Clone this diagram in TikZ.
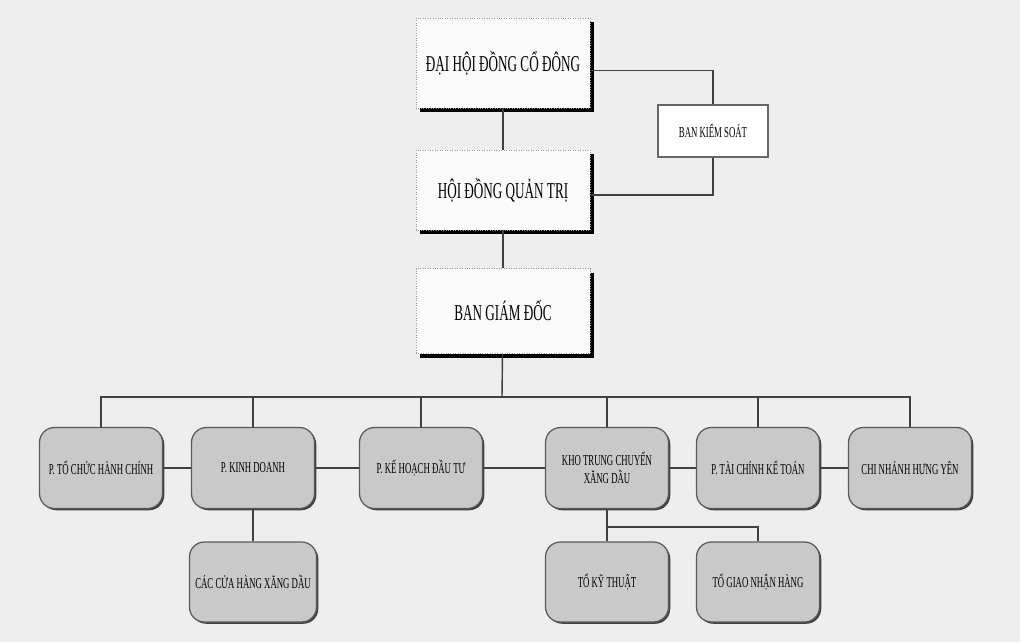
\documentclass[tikz,border=0pt]{standalone}
\usepackage{fontspec}
\setmainfont[FakeStretch=0.58]{Liberation Serif}
\usetikzlibrary{shadows}

\tikzstyle{topbox} = [rectangle, minimum width=3.48cm, minimum height=1.7cm, text centered, draw=black!40, densely dotted, fill=gray!4, font=\fontsize{12.9}{14}\selectfont, drop shadow={shadow xshift=0.08cm, shadow yshift=-0.08cm, fill=black, opacity=1}]
\tikzstyle{ctlbox} = [rectangle, minimum width=2.2cm, minimum height=1.04cm, text centered, draw=black!60, line width=0.9pt, fill=white, font=\fontsize{8.6}{10}\selectfont]
\tikzstyle{unit} = [rectangle, rounded corners=0.3cm, minimum width=2.46cm, minimum height=1.62cm, text centered, align=center, draw=black!65, line width=0.7pt, fill=gray!42, font=\fontsize{8.6}{10}\selectfont, drop shadow={shadow xshift=0.035cm, shadow yshift=-0.035cm, fill=black!75, opacity=1}]
\tikzstyle{conn} = [draw=black!75, line width=0.8pt]

\begin{document}
\begin{tikzpicture}[node distance=3cm]
\useasboundingbox (0,0) rectangle (20.4,-12.84);
\fill [gray!13] (0,0) rectangle (20.4,-12.84);
% top of the chart
\node (dhcd) [topbox, minimum height=1.8cm] at (10.06,-1.26) {ĐẠI HỘI ĐỒNG CỔ ĐÔNG};
\node (hdqt) [topbox, minimum height=1.6cm, below of=dhcd, yshift=0.46cm] {HỘI ĐỒNG QUẢN TRỊ};
\node (bgd) [topbox, below of=hdqt, yshift=0.58cm] {BAN GIÁM ĐỐC};
\node (bks) [ctlbox, right of=dhcd, xshift=1.2cm, yshift=-1.36cm] {BAN KIỂM SOÁT};
% departments
\node (tchc) [unit] at (2.02,-9.36) {P. TỔ CHỨC HÀNH CHÍNH};
\node (kd) [unit, right of=tchc, xshift=0.04cm] {P. KINH DOANH};
\node (khdt) [unit, right of=kd, xshift=0.36cm] {P. KẾ HOẠCH ĐẦU TƯ};
\node (kho) [unit, right of=khdt, xshift=0.72cm] {KHO TRUNG CHUYỂN\\XĂNG DẦU};
\node (tckt) [unit, right of=kho, xshift=0.02cm] {P. TÀI CHÍNH KẾ TOÁN};
\node (cnhy) [unit, right of=tckt, xshift=0.04cm] {CHI NHÁNH HƯNG YÊN};
\node (cchxd) [unit, minimum height=1.6cm, below of=kd, yshift=0.72cm] {CÁC CỬA HÀNG XĂNG DẦU};
\node (tkt) [unit, minimum height=1.6cm, below of=kho, yshift=0.72cm] {TỔ KỸ THUẬT};
\node (tgnh) [unit, minimum height=1.6cm, below of=tckt, yshift=0.72cm] {TỔ GIAO NHẬN HÀNG};
\coordinate (bus) at (10.04,-7.94);
\coordinate (br) at (12.14,-10.54);
\draw [conn] (dhcd) -- (hdqt);
\draw [conn] (hdqt) -- (bgd);
\draw [conn] ([yshift=-0.15cm]dhcd.east) -| (bks.north);
\draw [conn] (bks.south) |- ([yshift=-0.1cm]hdqt.east);
\draw [conn] (bgd) -- (bus);
\foreach \n in {tchc,kd,khdt,kho,tckt,cnhy}
  \draw [conn] (\n.north) |- (bus);
\draw [conn] (tchc.east) -- (kd.west);
\draw [conn] (kd.east) -- (khdt.west);
\draw [conn] (khdt.east) -- (kho.west);
\draw [conn] (kho.east) -- (tckt.west);
\draw [conn] (tckt.east) -- (cnhy.west);
\draw [conn] (kd.south) -- (cchxd.north);
\draw [conn] (kho.south) -- (tkt.north);
\draw [conn] (tgnh.north) |- (br);
\end{tikzpicture}
\end{document}
